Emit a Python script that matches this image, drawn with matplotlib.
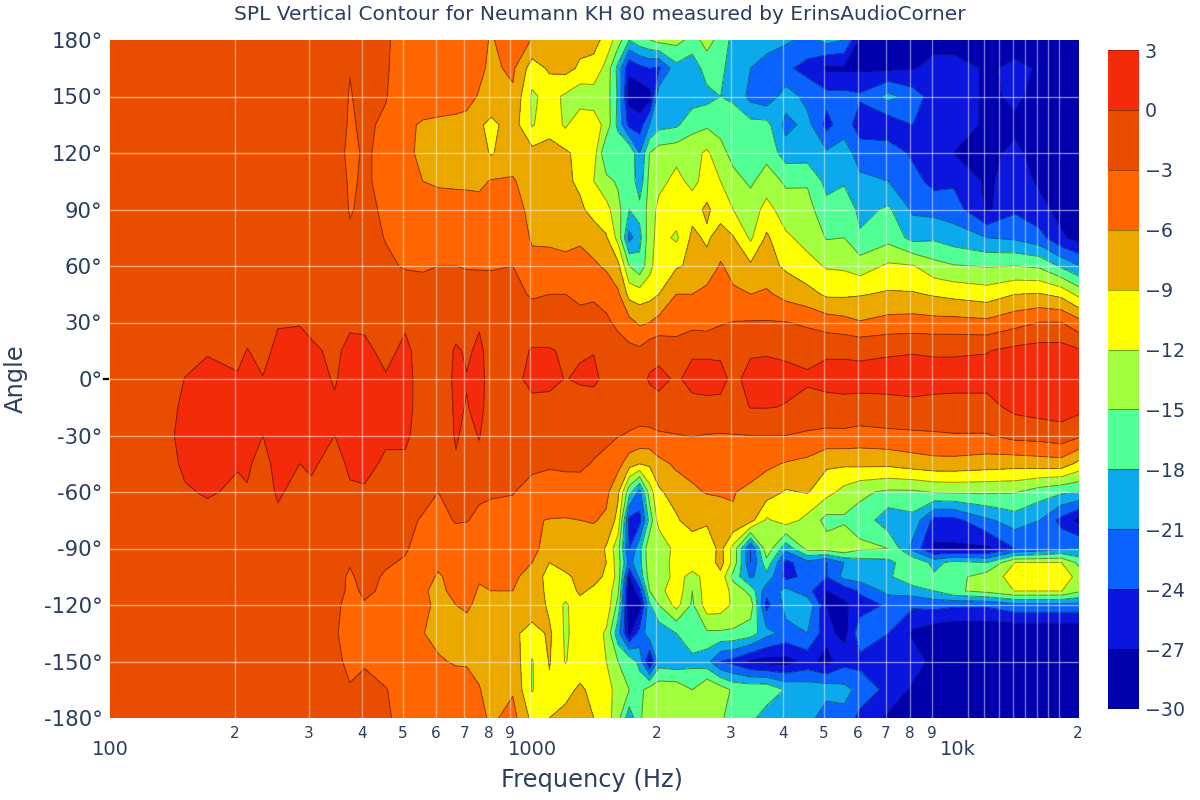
import numpy as np
import matplotlib
matplotlib.use("Agg")
import matplotlib.pyplot as plt
from matplotlib.colors import ListedColormap, BoundaryNorm
from matplotlib.transforms import ScaledTranslation

freq_low = [101.4,127,142,152,172,203,214,233,253,285,304,345,375,406,456,507,558,608,669,710,760,811]
freq_high = [913,1014,1115,1217,1318,1420,1521,1622,1724,1825,1927,2028,2231,2434,2636,2839,3042,3346,3650,4056,
             4563,5070,5577,6084,7098,8112,9126,10140,12168,14196,16224,18252,20200]
angles = [180,165,150,135,120,105,90,75,60,45,30,15,0,-15,-30,-45,-60,-75,-90,-97.5,-105,-112.5,-120,-135,-150,-165,-180]

spl_low = [
 [-2,-2,-2,-2,-2,-2,-2,-2,-2,-2,-2,-2,-2,-2.2,-2.7,-4,-4.3,-4.5,-4.7,-5,-5.3,-6.2],
 [-2,-2,-2,-2,-2,-2,-2,-2,-2,-2,-2,-2.2,-2.95,-2.4,-2.8,-4,-4.3,-4.5,-4.8,-5,-5.5,-6.5],
 [-2,-2,-2,-2,-2,-2,-2,-2,-2,-2,-2,-2.2,-3.1,-2.5,-2.9,-4.2,-4.5,-4.7,-5,-5.3,-6.2,-6.8],
 [-2,-2,-2,-2,-2,-2,-2,-2,-2,-2,-2,-2.2,-3.2,-2.7,-3.3,-5.5,-6.3,-6.5,-6.6,-6.7,-8.6,-9.8],
 [-2,-2,-2,-2,-2,-2,-2,-2,-2,-2,-2,-2.3,-3.4,-2.8,-3.4,-5.8,-6.2,-6.5,-6.7,-7,-7.8,-9.3],
 [-2,-2,-2,-2,-2,-2,-2,-2,-2,-2,-2,-2.2,-3.2,-2.8,-3.4,-5.5,-6,-6.3,-6.4,-6.5,-6.6,-5.8],
 [-2,-2,-2,-2,-2,-2,-2,-2,-2,-2,-2,-2.1,-3.1,-2.7,-3.2,-5,-5,-5,-5,-4.9,-5,-5.2],
 [-2,-2,-2,-2,-2,-2,-2,-2,-2,-2,-2,-2,-2.8,-2.6,-3.05,-4,-4.3,-4.2,-4.2,-4.3,-4.3,-4.2],
 [-2,-2,-2,-2,-2,-2,-2,-2,-2,-2,-2,-2,-2,-2.2,-2.8,-3.1,-3.2,-3,-3,-3.1,-3.1,-3.1],
 [-2,-2,-2,-2,-2,-2,-2,-2,-2,-2,-2,-2,-2,-2,-2.2,-2.3,-2.3,-2.2,-2.2,-2.3,-2.4,-2.5],
 [-2,-2,-2,-1.6,-1.2,-1.2,-1,-1.2,-0.2,-0.1,-0.6,-1,-0.4,-0.4,-1,-0.3,-1.5,-2,-1,-1.5,-0.2,-1.2],
 [-2,-2,-1.3,-0.8,-0.2,-0.8,0.1,-0.8,0.7,0.7,0.4,-0.5,0.7,0.5,-0.6,0.5,-1,-1.5,0.3,-0.3,0.4,-0.8],
 [-2,-2,-1,0.05,0.8,0.3,0.7,0.1,1,1,0.9,-0.2,1,1,0.2,0.6,-0.8,-1.5,0.5,0.1,0.6,-0.8],
 [-2,-1.8,-0.4,0.5,1,0.8,0.8,0.3,1,1,0.9,0.3,1,1,0.7,0.5,-0.7,-1.3,0.3,-0.1,0.6,-1],
 [-2,-1.6,-0.1,0.5,1,0.8,0.6,0,1,0.9,0.8,0,1,1,0.3,0.3,-0.8,-1.4,0.2,-0.5,0.1,-1.2],
 [-2,-1.8,-0.5,0.5,0.8,0.2,0.2,-0.5,0.5,0,0.3,-0.8,0.4,0.5,-0.3,-0.3,-1,-1.5,-0.2,-0.9,-0.5,-1.5],
 [-2,-2,-1.3,-0.3,0.3,-0.5,-0.1,-1,0.3,-0.8,-0.4,-1.3,-0.3,-0.2,-1.2,-1.5,-2.3,-3,-2.3,-2.3,-2.6,-2.8],
 [-2,-2,-1.8,-1.4,-1,-1.2,-1,-1.3,-0.5,-1.5,-1.4,-1.6,-1.3,-1.5,-2,-2.5,-3.2,-3.8,-2.8,-2.9,-3.5,-3.6],
 [-2,-2,-2,-2,-2,-2,-2,-2,-2,-2,-2,-2,-2,-2.2,-2.6,-2.8,-3.8,-4.4,-4.5,-4.5,-4.5,-4.7],
 [-2,-2,-2,-2,-2,-2,-2,-2,-2,-2,-2,-2.2,-2.9,-2.4,-2.8,-3.2,-4.5,-5.5,-4.8,-4.8,-5.2,-5.1],
 [-2,-2,-2,-2,-2,-2,-2,-2,-2,-2,-2,-2.5,-3.2,-2.5,-3.2,-3.5,-5,-6.3,-5,-5,-5.8,-5.4],
 [-2,-2,-2,-2,-2,-2,-2,-2,-2,-2,-2,-2.4,-3.3,-2.8,-3.2,-3.1,-5.8,-6.4,-5.5,-5.3,-6.2,-6],
 [-2,-2,-2,-2,-2,-2,-2,-2,-2,-2,-2,-2.6,-3.6,-3.1,-3.5,-3.7,-5.5,-6.5,-6,-5.7,-6.5,-6.3],
 [-2,-2,-2,-2,-2,-2,-2,-2,-2,-2,-2,-2.8,-3.7,-3.6,-3.6,-3.9,-5.9,-6.8,-6.8,-6.8,-7,-7.5],
 [-2,-2,-2,-2,-2,-2,-2,-2,-2,-2,-2,-2.7,-3.3,-3.1,-3.5,-3.7,-4.5,-5.7,-6.3,-6.3,-7,-8.8],
 [-2,-2,-2,-2,-2,-2,-2,-2,-2,-2,-2,-2.2,-2.9,-2.7,-2.95,-3.5,-4,-4.2,-4.4,-4.7,-5.8,-7.5],
 [-2,-2,-2,-2,-2,-2,-2,-2,-2,-2,-2,-2,-2.3,-2.5,-2.8,-3.5,-3.8,-4,-4.2,-4.5,-5.2,-6.5],
]

spl_high = [
 [-4.8,-6.1,-8,-7.5,-8,-8,-10,-13.5,-18,-16,-15,-14,-14,-16,-14,-16,-19,-20,-20,-20.5,-22,-20,-21,-27.5,-28,-28,-28,-28,-28,-28,-28,-28,-28],
 [-5.5,-10.5,-8.5,-8,-9.5,-10,-13,-19,-26.5,-25,-24,-24.5,-19,-20,-16.5,-17,-20,-21,-22,-23.5,-25,-27.5,-27.5,-27.5,-27.5,-27.2,-26,-26,-27.3,-26.5,-27.2,-28,-28.5],
 [-6.5,-12.5,-11,-12.5,-14,-13.5,-13.5,-18.5,-28,-29,-28,-19,-19,-19.5,-19,-18,-18.5,-22,-23,-19.5,-22,-23,-23,-23.5,-20,-22.5,-25.5,-25.5,-27.5,-26.5,-28,-28.5,-29],
 [-7.5,-12.3,-10,-12.5,-9.5,-10.5,-13,-19,-25,-25.5,-21,-19,-18.5,-16,-15.5,-16,-16.5,-17,-17,-22,-20,-25,-22,-26,-26,-24,-25.5,-25.5,-27.5,-27.5,-28.5,-29,-29],
 [-7,-8,-8,-8.5,-10,-10.5,-18,-15,-15,-21,-15,-13.5,-13,-13,-11.5,-14,-16,-16,-16,-19.5,-19.5,-20.5,-20,-22,-22.5,-24.5,-24.5,-27,-27.5,-26.5,-28,-28.5,-29],
 [-5.8,-7,-8,-8.5,-9.5,-12,-14,-15.5,-15.5,-20,-14,-13,-11,-13,-10.5,-12,-14,-15.5,-13.5,-15.5,-15.3,-19,-18.5,-20.5,-21,-23,-25,-24.5,-27.5,-25.5,-27.5,-28,-29],
 [-5.3,-6.5,-8,-7.5,-8.5,-10,-11,-14,-18,-17,-14,-11,-10.5,-10,-8.5,-10.5,-12,-13.5,-11,-13.5,-14,-17,-15.5,-19,-17.5,-21.5,-22,-22.5,-27.5,-24.5,-26,-28,-28.5],
 [-4.8,-6.2,-6.5,-6.7,-6.5,-7.5,-8.7,-13,-22,-19,-13,-11,-12.5,-8.3,-9.5,-7.5,-8.8,-12.5,-8.5,-11.5,-13,-15.2,-15,-17.5,-16,-19,-18.5,-19.5,-21,-21.5,-23,-26.5,-28],
 [-3,-5.5,-5,-5.3,-4.8,-5.5,-6.5,-8.2,-15,-17,-13,-10,-9.3,-8.5,-8,-5.7,-7,-8.5,-8,-9.5,-11,-12.3,-12.5,-13.5,-11.5,-11.8,-14,-14.8,-15.2,-15,-15.5,-18.5,-21],
 [-2.5,-3.2,-3,-3,-3.5,-3.3,-3.8,-5.5,-10,-10.5,-10,-9,-6,-6,-5,-5,-5.5,-6,-5.5,-7,-8,-9.5,-9.5,-9.2,-8.6,-8.7,-9.3,-9.8,-10.5,-9,-8.8,-9.8,-13],
 [-2.3,-2.1,-2.2,-2.1,-2.2,-2.2,-2.6,-3.5,-5,-6.5,-6,-5,-4,-4,-4.2,-3.3,-2.9,-2.8,-2.8,-2.9,-3.5,-4.5,-5,-5.8,-5,-4.8,-5,-5,-5.3,-4,-2.9,-2.9,-5],
 [-1.5,0.3,0.3,-0.5,-0.3,-0.1,-1.7,-2,-2.2,-2.4,-1,-0.7,-2,-0.3,-0.3,-0.4,-1.5,-0.3,-0.2,-0.3,-0.8,-0.3,-0.3,-0.4,-0.2,-0.1,-0.2,-0.2,-0.1,0.8,1.2,1.2,0.3],
 [-1,1,0.8,-0.1,0.4,0.6,-0.8,-1.5,-2,-1,0.3,0.6,-0.3,0.7,0.7,0.7,-0.6,0.8,0.8,0.5,0.4,0.7,0.7,0.7,0.7,0.7,0.7,0.7,0.8,1.2,1.5,1.5,0.5],
 [-1.2,-1,-1,-1.5,-1.5,-1.5,-1.5,-1.8,-2,-2,-1.3,-0.8,-1.2,-0.7,-0.5,-0.6,-1,0.1,0.1,-0.1,-1,-0.8,-0.6,-0.7,-0.6,-0.4,-0.6,-0.7,-0.8,0.7,1.2,1.3,0.8],
 [-2.2,-2,-2,-2,-2,-2,-2.4,-2.9,-3.2,-3.5,-3.7,-3.4,-3.1,-2.9,-3.1,-3.2,-3.1,-3,-3,-3,-3.4,-3.8,-3.8,-4.2,-3.8,-3.6,-3.4,-3.2,-3.2,-2,-1.8,-1.2,-2.5],
 [-2.3,-2.5,-2.7,-2.6,-2.5,-3.2,-3.8,-5,-7.7,-9,-8.5,-6.8,-5.5,-5,-4.7,-4.5,-4.6,-5,-5.5,-6.2,-6.8,-8.5,-8.5,-8.3,-8.3,-7.5,-7,-7,-7.5,-7.8,-7.5,-7.3,-10],
 [-2.9,-3.8,-4.2,-4,-4.2,-4.4,-5.3,-8.5,-17,-22,-13.5,-9.5,-7.5,-6.5,-5.8,-5.9,-5.9,-6.5,-7.5,-9.3,-8.8,-11,-13,-14.5,-15.5,-15.5,-14.8,-14.6,-14.6,-14.8,-16.5,-17.5,-18],
 [-3.8,-5.8,-6.1,-6.2,-6,-5.8,-6.5,-10,-25,-25,-17,-10.5,-9.5,-7,-8.5,-6.5,-6.2,-8,-12.5,-10.5,-13,-16,-15.5,-16,-20,-19,-25,-25,-21.5,-19.5,-21,-25,-28],
 [-4.8,-5.5,-6.8,-7,-7,-7.5,-9.3,-14,-24,-19,-12.5,-15,-10.5,-12,-11,-8,-13,-24,-13,-20,-14,-13.5,-12.3,-14.5,-15,-22,-27.5,-27.5,-27.5,-24,-23,-21.5,-21],
 [-5,-6,-9,-8,-7.5,-7.5,-9,-13.5,-22,-19,-13,-14,-10.5,-9.8,-11,-7.8,-13,-24,-16,-25,-22,-24,-21,-19.5,-19,-15.5,-19,-17,-18,-11.9,-11.9,-11.9,-16],
 [-5.3,-7.5,-10,-9.5,-8.3,-8,-9.5,-13,-27,-20,-13.5,-14.5,-10.5,-13.5,-10.5,-10,-16,-21.5,-19,-25,-23,-24,-20,-19.5,-18.5,-15.5,-17.5,-16,-13.5,-10.8,-10.5,-10.5,-13],
 [-6,-7,-10,-10.5,-8.5,-9.6,-9.8,-14.5,-29,-25,-15,-13,-10,-15,-10,-10,-13,-16,-23,-20,-23,-27,-26,-23.5,-20,-19.5,-18,-15.5,-14,-11.9,-11.9,-11.9,-14.5],
 [-6.5,-7,-9.6,-12.5,-10,-9.7,-9.8,-16,-29,-28,-18.5,-15,-11,-15.5,-10.3,-10.5,-12.5,-13.5,-25,-20,-18.5,-27,-27.5,-25.5,-23.5,-23.5,-23,-23.5,-23.5,-22,-22,-22,-22],
 [-8.3,-10.3,-8.5,-12.5,-10.5,-10.5,-12.5,-20,-27.5,-23,-19,-20,-18,-15.5,-15.5,-15.5,-15.5,-16.5,-20,-22,-21,-26,-28,-22,-24,-27.5,-29,-29.5,-29.5,-29.8,-29.8,-29.8,-29.8],
 [-7,-12.2,-8.8,-12.2,-10,-10.5,-12,-15,-16,-19,-27.5,-19.5,-20,-19,-20,-24,-25,-27.5,-28,-28,-26,-28,-25,-25,-26,-25.5,-28,-28,-28.5,-29.5,-29.5,-29.5,-29.5],
 [-6.3,-12.2,-9.5,-9.5,-8.7,-9.5,-11,-13,-15,-16,-13.5,-13,-13,-15,-12,-13.5,-15.5,-15.5,-15.5,-18.3,-19,-19,-20,-22,-25,-27.5,-29,-29,-29,-29,-29,-29,-29],
 [-5,-9.8,-9,-8.5,-8,-9,-10.5,-14,-20,-15.5,-13,-12.5,-13,-14.5,-13,-14,-18,-17,-20,-18,-19,-24,-22,-25,-27.5,-29,-29,-29,-29,-29,-29,-29,-29],
]

levels = [-30,-27,-24,-21,-18,-15,-12,-9,-6,-3,0,3]
band_colors = ['#0000AD','#0A15DE','#0A63FF','#0CA9EC','#52FF94','#A2FF3F','#FFFF00','#EBA900','#FF6600','#E94E00','#F32B0B']
grid_freqs = [200,300,400,500,600,700,800,900,1000,2000,3000,4000,5000,6000,7000,8000,9000,
              11000,12000,13000,14000,15000,16000,17000,18000]
major_ticks = [100,1000,10000]
major_labels = ['100','1000','10k']
minor_ticks = [200,300,400,500,600,700,800,900,2000,3000,4000,5000,6000,7000,8000,9000,20000]
minor_labels = ['2','3','4','5','6','7','8','9','2','3','4','5','6','7','8','9','2']
angle_ticks = [-180,-150,-120,-90,-60,-30,0,30,60,90,120,150,180]
TXT = '#2a3f5f'

freqs = np.array(freq_low + freq_high)
z = np.hstack([np.array(spl_low), np.array(spl_high)])
order = np.argsort(angles)
ang = np.array(angles)[order]
z = z[order]

fig = plt.figure(figsize=(12, 8), dpi=100)
ax = fig.add_axes([108/1200, 1-718/800, (1079-108)/1200, (718-40)/800])
cmap = ListedColormap(band_colors)
norm = BoundaryNorm(levels, cmap.N)
cf = ax.contourf(freqs, ang, z, levels=levels, cmap=cmap, norm=norm, extend='neither', zorder=1)
ax.contour(freqs, ang, z, levels=levels, colors='k', linewidths=0.7, linestyles='solid', alpha=0.45, zorder=2)
ax.set_xscale('log')
ax.set_xlim(101.4, 20120)
ax.set_ylim(-180, 180)

for f in grid_freqs:
    ax.axvline(f, color='white', lw=1, alpha=0.45, zorder=3)
for a in angle_ticks[1:-1]:
    ax.axhline(a, color='white', lw=1, alpha=0.5, zorder=3)

ax.set_xticks(major_ticks, major_labels)
ax.set_xticks(minor_ticks, minor_labels, minor=True)
ax.tick_params(axis='x', which='major', length=0, labelsize=14, labelcolor=TXT, pad=15.5)
ax.tick_params(axis='x', which='minor', length=0, labelsize=11, labelcolor=TXT, pad=5.5)
for lab, dx in zip(ax.get_xticklabels(), [2.5, 3, 7]):
    lab.set_transform(lab.get_transform() + ScaledTranslation(dx/100, 0, fig.dpi_scale_trans))
ax.set_yticks(angle_ticks, [f'{a}°' for a in angle_ticks])
ax.tick_params(axis='y', length=0, labelsize=15.3, labelcolor=TXT, pad=4)
for s in ax.spines.values():
    s.set_visible(False)
ax.plot([-0.004, 0], [0, 0], transform=ax.get_yaxis_transform(), color='k', lw=1.6, clip_on=False, zorder=5)

fig.text(592/1200, 1-780/800, 'Frequency (Hz)', ha='center', va='center', fontsize=17.4, color=TXT)
fig.text(16/1200, 1-379/800, 'Angle', ha='center', va='center', rotation=90, fontsize=17.4, color=TXT)
fig.text(600/1200, 1-15/800, 'SPL Vertical Contour for Neumann KH 80 measured by ErinsAudioCorner',
         ha='center', va='center', fontsize=14.5, color=TXT)

cax = fig.add_axes([1108/1200, 1-709/800, 31/1200, (709-50)/800])
cb = fig.colorbar(cf, cax=cax, ticks=levels, drawedges=True)
cb.outline.set_visible(False)
cb.dividers.set_color((0, 0, 0, 0.35))
cb.dividers.set_linewidth(0.8)
cax.axhline(3, color='k', alpha=0.35, lw=1.2)
cax.axhline(-30, color='k', alpha=0.35, lw=1.2)
cax.set_yticklabels([str(v).replace('-', '\u2212') for v in levels])
cax.tick_params(length=0, labelsize=13.7, labelcolor=TXT, pad=4)

fig.savefig('out.png', dpi=100)
